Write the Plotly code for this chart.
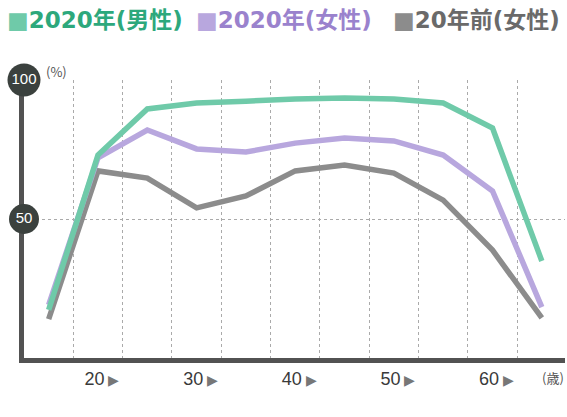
import plotly.graph_objects as go

age_groups = ["15-19", "20-24", "25-29", "30-34", "35-39", "40-44",
              "45-49", "50-54", "55-59", "60-64", "65+"]
male_2020 = [17.3, 73.0, 89.6, 91.7, 92.4, 93.2, 93.5, 93.2, 91.7, 82.7, 34.9]
female_2020 = [19.1, 72.0, 82.0, 75.2, 74.1, 77.3, 79.1, 78.1, 73.0, 60.1, 18.3]
female_20y_ago = [14.0, 67.3, 64.7, 54.0, 58.3, 67.3, 69.4, 66.5, 56.8, 38.8, 14.4]

series_names = ["2020年(男性)", "2020年(女性)", "20年前(女性)"]
line_colors = ["#6fcaa9", "#b8a7de", "#8c8c8c"]
text_colors = ["#2da87c", "#9a82cd", "#6a6a6a"]

x_tick_vals = [1, 3, 5, 7, 9]
x_tick_labels = ["20", "30", "40", "50", "60"]
y_tick_vals = [50, 100]
y_tick_labels = ["50", "100"]

idx = list(range(len(age_groups)))
fig = go.Figure()

for vals, name, col in [(female_20y_ago, series_names[2], line_colors[2]),
                        (female_2020, series_names[1], line_colors[1]),
                        (male_2020, series_names[0], line_colors[0])]:
    fig.add_trace(go.Scatter(x=idx, y=vals, mode="lines", name=name,
                             line=dict(color=col, width=5.5),
                             customdata=age_groups, showlegend=False))

# y-axis circular labels
fig.add_trace(go.Scatter(
    x=[-0.5] * len(y_tick_vals), y=y_tick_vals, mode="markers+text",
    marker=dict(size=[30, 33], color="#3b413e", opacity=1,
                line=dict(width=0)),
    text=y_tick_labels, textposition="middle center",
    textfont=dict(color="white", size=15, family="Liberation Sans"),
    cliponaxis=False, showlegend=False, hoverinfo="skip"))

fig.update_layout(
    width=567, height=417,
    margin=dict(l=24, r=2, t=80, b=59),
    paper_bgcolor="white", plot_bgcolor="white",
    font=dict(family="Liberation Sans", color="#444"),
    xaxis=dict(range=[-0.5, 10.47], showgrid=False, zeroline=False,
               tickvals=x_tick_vals,
               ticktext=[t + "<span style='color:#777;font-size:14px'> ▶</span>" for t in x_tick_labels],
               tickfont=dict(size=18, color="#3a3a3a"),
               ticks="", showline=True, linewidth=5, linecolor="#525252",
               ticklabelstandoff=0, ticklabelshift=4, layer="below traces",
               minor=dict(tickvals=[i + 0.5 for i in range(10)] + [10.47],
                          showgrid=True, gridcolor="#aaaaaa", griddash="dot",
                          gridwidth=1, ticks="")),
    yaxis=dict(range=[0, 100], tickvals=y_tick_vals, showticklabels=False,
               showgrid=True, gridcolor="#aaaaaa", griddash="dot", gridwidth=1,
               zeroline=False, ticks="", showline=True, linewidth=5,
               linecolor="#525252", layer="below traces"),
)

# legend as annotations
legend_x = [5, 194, 391]
for lx, name, lc, tc in zip(legend_x, series_names, line_colors, text_colors):
    fig.add_annotation(
        x=(lx - 24) / 541, y=1 + (80 - 20) / 278, xref="paper", yref="paper",
        xanchor="left", yanchor="middle", showarrow=False,
        text=f"<span style='color:{lc};font-size:23px'>■</span><b>{name}</b>",
        font=dict(family="DejaVu Sans, Noto Sans CJK JP", size=23, color=tc))

fig.add_annotation(x=(56 - 24) / 541, y=1 + (80 - 71) / 278, xref="paper", yref="paper",
                   xanchor="center", yanchor="middle", showarrow=False,
                   text="(%)", font=dict(family="Noto Sans CJK JP", size=13, color="#555"))
fig.add_annotation(x=(553 - 24) / 541, y=-(377 - 358) / 278, xref="paper", yref="paper",
                   xanchor="center", yanchor="middle", showarrow=False,
                   text="(歳)", font=dict(family="Noto Sans CJK JP", size=13, color="#555"))

fig.write_html("out.html", config={"displayModeBar": False},
               post_script="document.body.style.margin='0';")
